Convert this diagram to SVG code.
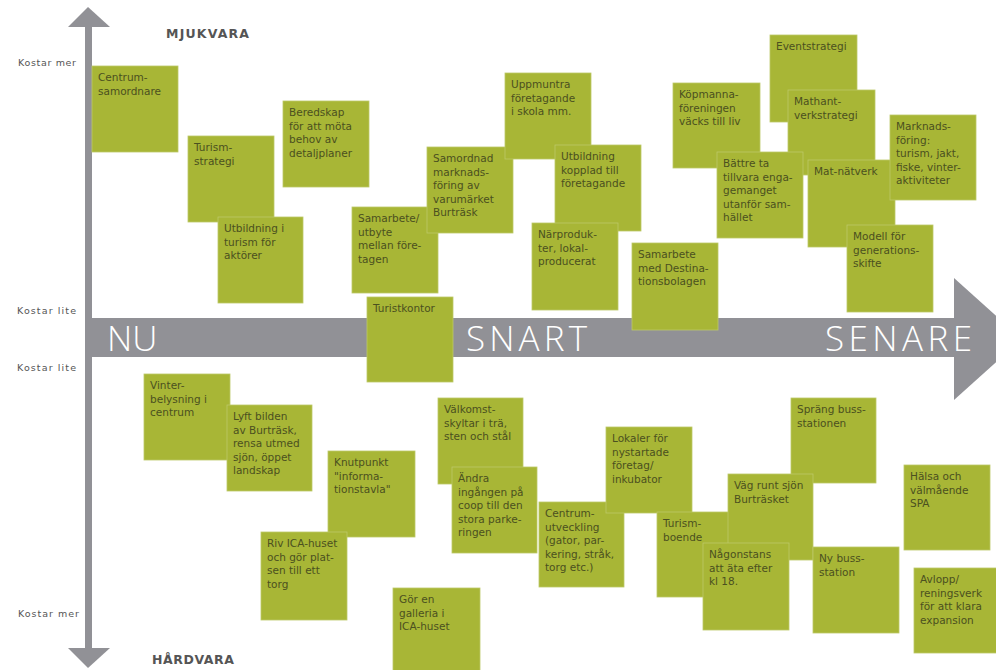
<svg xmlns="http://www.w3.org/2000/svg" width="996" height="670" viewBox="0 0 996 670">
<style>
.box{fill:#a8b636;stroke:#bcc868;stroke-width:0.8}
.t{font-family:"DejaVu Sans","Open Sans",sans-serif;font-size:10.5px;fill:#4b5020}
.ax{fill:#919196}
.big{font-family:"Open Sans","DejaVu Sans",sans-serif;font-size:35px;fill:#ffffff;font-weight:300}
.lbl{font-family:"DejaVu Sans","Open Sans",sans-serif;font-size:9.5px;fill:#555555}
.hd{font-family:"DejaVu Sans","Open Sans",sans-serif;font-size:12.5px;fill:#555555;font-weight:bold}
</style>
<rect x="0" y="0" width="996" height="670" fill="#ffffff"/>
<g id="axes">
<rect class="ax" x="85" y="24" width="7" height="626"/>
<polygon class="ax" points="68,27 88,7 110,27"/>
<polygon class="ax" points="68,648 88,668 110,648"/>
<rect class="ax" x="85" y="318" width="870" height="39"/>
<polygon class="ax" points="954,278 1022,339 954,400"/>
<text class="big" x="107" y="351">NU</text>
<text class="big" x="466" y="351" textLength="121">SNART</text>
<text class="big" x="825" y="351" textLength="147">SENARE</text>
</g>
<g id="labels">
<text class="hd" x="166" y="38" textLength="83">MJUKVARA</text>
<text class="hd" x="152" y="664" textLength="82">HÅRDVARA</text>
<text class="lbl" x="18" y="66" textLength="58">Kostar mer</text>
<text class="lbl" x="17" y="314" textLength="59">Kostar lite</text>
<text class="lbl" x="17" y="371" textLength="59">Kostar lite</text>
<text class="lbl" x="18" y="617" textLength="61">Kostar mer</text>
</g>
<g id="n1"><rect class="box" x="92" y="66" width="86" height="86"/><text class="t" x="98" y="81"><tspan x="98">Centrum-</tspan><tspan x="98" dy="13.5">samordnare</tspan></text></g>
<g id="n2"><rect class="box" x="188" y="136" width="86" height="86"/><text class="t" x="194" y="151"><tspan x="194">Turism-</tspan><tspan x="194" dy="13.5">strategi</tspan></text></g>
<g id="n4"><rect class="box" x="218" y="217" width="85" height="86"/><text class="t" x="224" y="232"><tspan x="224">Utbildning i</tspan><tspan x="224" dy="13.5">turism för</tspan><tspan x="224" dy="13.5">aktörer</tspan></text></g>
<g id="n3"><rect class="box" x="283" y="101" width="86" height="86"/><text class="t" x="289" y="116"><tspan x="289">Beredskap</tspan><tspan x="289" dy="13.5">för att möta</tspan><tspan x="289" dy="13.5">behov av</tspan><tspan x="289" dy="13.5">detaljplaner</tspan></text></g>
<g id="n8"><rect class="box" x="352" y="207" width="86" height="86"/><text class="t" x="358" y="222"><tspan x="358">Samarbete/</tspan><tspan x="358" dy="13.5">utbyte</tspan><tspan x="358" dy="13.5">mellan före-</tspan><tspan x="358" dy="13.5">tagen</tspan></text></g>
<g id="n5"><rect class="box" x="427" y="147" width="86" height="86"/><text class="t" x="433" y="162"><tspan x="433">Samordnad</tspan><tspan x="433" dy="13.5">marknads-</tspan><tspan x="433" dy="13.5">föring av</tspan><tspan x="433" dy="13.5">varumärket</tspan><tspan x="433" dy="13.5">Burträsk</tspan></text></g>
<g id="n6"><rect class="box" x="505" y="73" width="86" height="86"/><text class="t" x="511" y="88"><tspan x="511">Uppmuntra</tspan><tspan x="511" dy="13.5">företagande</tspan><tspan x="511" dy="13.5">i skola mm.</tspan></text></g>
<g id="n7"><rect class="box" x="555" y="145" width="86" height="86"/><text class="t" x="561" y="160"><tspan x="561">Utbildning</tspan><tspan x="561" dy="13.5">kopplad till</tspan><tspan x="561" dy="13.5">företagande</tspan></text></g>
<g id="n9"><rect class="box" x="532" y="223" width="86" height="87"/><text class="t" x="538" y="238"><tspan x="538">Närproduk-</tspan><tspan x="538" dy="13.5">ter, lokal-</tspan><tspan x="538" dy="13.5">producerat</tspan></text></g>
<g id="n11"><rect class="box" x="367" y="297" width="86" height="85"/><text class="t" x="373" y="312"><tspan x="373">Turistkontor</tspan></text></g>
<g id="n10"><rect class="box" x="632" y="243" width="86" height="87"/><text class="t" x="638" y="258"><tspan x="638">Samarbete</tspan><tspan x="638" dy="13.5">med Destina-</tspan><tspan x="638" dy="13.5">tionsbolagen</tspan></text></g>
<g id="n12"><rect class="box" x="673" y="83" width="87" height="85"/><text class="t" x="679" y="98"><tspan x="679">Köpmanna-</tspan><tspan x="679" dy="13.5">föreningen</tspan><tspan x="679" dy="13.5">väcks till liv</tspan></text></g>
<g id="n13"><rect class="box" x="770" y="35" width="87" height="87"/><text class="t" x="776" y="50"><tspan x="776">Eventstrategi</tspan></text></g>
<g id="n14"><rect class="box" x="788" y="90" width="87" height="85"/><text class="t" x="794" y="105"><tspan x="794">Mathant-</tspan><tspan x="794" dy="13.5">verkstrategi</tspan></text></g>
<g id="n15"><rect class="box" x="717" y="152" width="86" height="86"/><text class="t" x="723" y="167"><tspan x="723">Bättre ta</tspan><tspan x="723" dy="13.5">tillvara enga-</tspan><tspan x="723" dy="13.5">gemanget</tspan><tspan x="723" dy="13.5">utanför sam-</tspan><tspan x="723" dy="13.5">hället</tspan></text></g>
<g id="n16"><rect class="box" x="808" y="160" width="87" height="87"/><text class="t" x="814" y="175"><tspan x="814">Mat-nätverk</tspan></text></g>
<g id="n17"><rect class="box" x="890" y="115" width="86" height="85"/><text class="t" x="896" y="130"><tspan x="896">Marknads-</tspan><tspan x="896" dy="13.5">föring:</tspan><tspan x="896" dy="13.5">turism, jakt,</tspan><tspan x="896" dy="13.5">fiske, vinter-</tspan><tspan x="896" dy="13.5">aktiviteter</tspan></text></g>
<g id="n18"><rect class="box" x="847" y="225" width="86" height="87"/><text class="t" x="853" y="240"><tspan x="853">Modell för</tspan><tspan x="853" dy="13.5">generations-</tspan><tspan x="853" dy="13.5">skifte</tspan></text></g>
<g id="n19"><rect class="box" x="144" y="374" width="86" height="86"/><text class="t" x="150" y="389"><tspan x="150">Vinter-</tspan><tspan x="150" dy="13.5">belysning i</tspan><tspan x="150" dy="13.5">centrum</tspan></text></g>
<g id="n20"><rect class="box" x="227" y="405" width="85" height="86"/><text class="t" x="233" y="420"><tspan x="233">Lyft bilden</tspan><tspan x="233" dy="13.5">av Burträsk,</tspan><tspan x="233" dy="13.5">rensa utmed</tspan><tspan x="233" dy="13.5">sjön, öppet</tspan><tspan x="233" dy="13.5">landskap</tspan></text></g>
<g id="n21"><rect class="box" x="328" y="451" width="87" height="86"/><text class="t" x="334" y="466"><tspan x="334">Knutpunkt</tspan><tspan x="334" dy="13.5">"informa-</tspan><tspan x="334" dy="13.5">tionstavla"</tspan></text></g>
<g id="n22"><rect class="box" x="261" y="532" width="86" height="88"/><text class="t" x="267" y="547"><tspan x="267">Riv ICA-huset</tspan><tspan x="267" dy="13.5">och gör plat-</tspan><tspan x="267" dy="13.5">sen till ett</tspan><tspan x="267" dy="13.5">torg</tspan></text></g>
<g id="n23"><rect class="box" x="393" y="588" width="87" height="88"/><text class="t" x="399" y="603"><tspan x="399">Gör en</tspan><tspan x="399" dy="13.5">galleria i</tspan><tspan x="399" dy="13.5">ICA-huset</tspan></text></g>
<g id="n24"><rect class="box" x="438" y="398" width="85" height="86"/><text class="t" x="444" y="413"><tspan x="444">Välkomst-</tspan><tspan x="444" dy="13.5">skyltar i trä,</tspan><tspan x="444" dy="13.5">sten och stål</tspan></text></g>
<g id="n25"><rect class="box" x="452" y="467" width="85" height="86"/><text class="t" x="458" y="482"><tspan x="458">Ändra</tspan><tspan x="458" dy="13.5">ingången på</tspan><tspan x="458" dy="13.5">coop till den</tspan><tspan x="458" dy="13.5">stora parke-</tspan><tspan x="458" dy="13.5">ringen</tspan></text></g>
<g id="n26"><rect class="box" x="539" y="502" width="85" height="85"/><text class="t" x="545" y="517"><tspan x="545">Centrum-</tspan><tspan x="545" dy="13.5">utveckling</tspan><tspan x="545" dy="13.5">(gator, par-</tspan><tspan x="545" dy="13.5">kering, stråk,</tspan><tspan x="545" dy="13.5">torg etc.)</tspan></text></g>
<g id="n27"><rect class="box" x="606" y="427" width="86" height="86"/><text class="t" x="612" y="442"><tspan x="612">Lokaler för</tspan><tspan x="612" dy="13.5">nystartade</tspan><tspan x="612" dy="13.5">företag/</tspan><tspan x="612" dy="13.5">inkubator</tspan></text></g>
<g id="n28"><rect class="box" x="657" y="512" width="85" height="85"/><text class="t" x="663" y="527"><tspan x="663">Turism-</tspan><tspan x="663" dy="13.5">boende</tspan></text></g>
<g id="n31"><rect class="box" x="791" y="398" width="85" height="85"/><text class="t" x="797" y="413"><tspan x="797">Spräng buss-</tspan><tspan x="797" dy="13.5">stationen</tspan></text></g>
<g id="n30"><rect class="box" x="728" y="474" width="85" height="86"/><text class="t" x="734" y="489"><tspan x="734">Väg runt sjön</tspan><tspan x="734" dy="13.5">Burträsket</tspan></text></g>
<g id="n29"><rect class="box" x="703" y="543" width="86" height="87"/><text class="t" x="709" y="558"><tspan x="709">Någonstans</tspan><tspan x="709" dy="13.5">att äta efter</tspan><tspan x="709" dy="13.5">kl 18.</tspan></text></g>
<g id="n32"><rect class="box" x="813" y="547" width="86" height="86"/><text class="t" x="819" y="562"><tspan x="819">Ny buss-</tspan><tspan x="819" dy="13.5">station</tspan></text></g>
<g id="n33"><rect class="box" x="904" y="465" width="86" height="85"/><text class="t" x="910" y="480"><tspan x="910">Hälsa och</tspan><tspan x="910" dy="13.5">välmående</tspan><tspan x="910" dy="13.5">SPA</tspan></text></g>
<g id="n34"><rect class="box" x="914" y="568" width="86" height="85"/><text class="t" x="920" y="583"><tspan x="920">Avlopp/</tspan><tspan x="920" dy="13.5">reningsverk</tspan><tspan x="920" dy="13.5">för att klara</tspan><tspan x="920" dy="13.5">expansion</tspan></text></g>
</svg>
